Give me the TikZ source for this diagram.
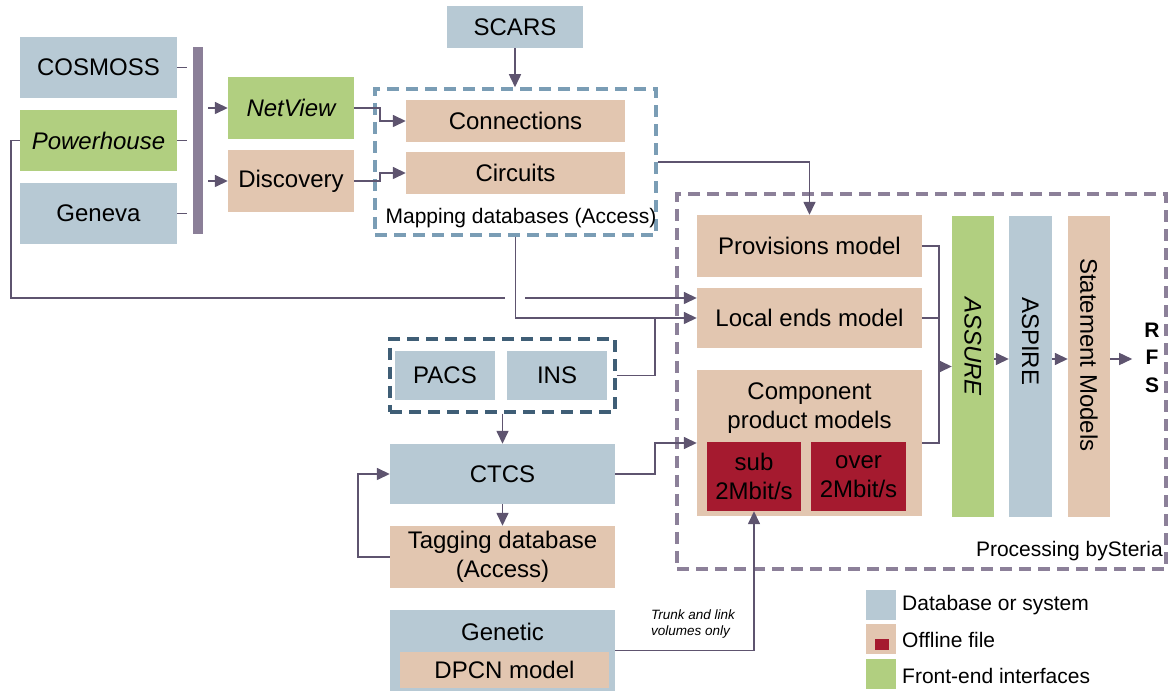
\documentclass[tikz,border=0pt]{standalone}
\usepackage{fontspec}
\setmainfont{Liberation Sans}
\usetikzlibrary{calc}
\usetikzlibrary{arrows.meta}
\definecolor{dbBlue}{HTML}{B7C9D4}
\definecolor{fileTan}{HTML}{E2C6B0}
\definecolor{frontGreen}{HTML}{B1CF80}
\definecolor{fileRed}{HTML}{A51A2F}
\definecolor{wireGrey}{HTML}{5E546F}
\definecolor{barGrey}{HTML}{8B7F98}
\definecolor{mapBlue}{HTML}{7A9DB5}
\definecolor{pacsBlue}{HTML}{3F5E76}
\definecolor{procGrey}{HTML}{8C8099}
\newcommand{\boxfont}{\fontsize{24}{29}\selectfont}
\newcommand{\labelfont}{\fontsize{21}{25}\selectfont}
\newcommand{\notefont}{\fontsize{13.5}{16}\selectfont\itshape}
\tikzset{
  block/.style = {fill=#1, inner sep=0pt, font=\boxfont, align=center},
  group/.style = {draw=#1, line width=3.5pt, dash pattern=on 12pt off 7pt, inner sep=0pt},
  wire/.style = {color=#1, line width=1.5pt},
  feed/.style = {color=#1, line width=1.5pt, -{Triangle[length=13pt,width=12pt]}},
  caption/.style = {inner sep=0pt, font=#1}
}

\begin{document}
\begin{tikzpicture}[x=1pt,y=-1pt]
    \useasboundingbox (0,0) rectangle (1171,692);

    % Groups
    \node[group={mapBlue}, minimum width=281pt, minimum height=146pt] (mapping) at (515.5,162) {};
    \node[group={procGrey}, minimum width=489pt, minimum height=375pt] (processing) at (921.5,381.5) {};
    \node[group={pacsBlue}, minimum width=225pt, minimum height=73pt] (pacsins) at (502.5,375.5) {};

    % Sources
    \node[block={dbBlue}, minimum width=157pt, minimum height=61pt] (cosmoss) at (98.5,67.5) {COSMOSS};
    \node[block={frontGreen}, minimum width=157pt, minimum height=61pt] (powerhouse) at (98.5,140.5) {\itshape Powerhouse};
    \node[block={dbBlue}, minimum width=157pt, minimum height=61pt] (geneva) at (98.5,213.5) {Geneva};
    \node[block={barGrey}, minimum width=10pt, minimum height=187pt] (bar) at (198,140.5) {};
    \node[block={frontGreen}, minimum width=126pt, minimum height=62pt] (netview) at (291,108) {\itshape NetView};
    \node[block={fileTan}, minimum width=126pt, minimum height=62pt] (discovery) at (291,181) {Discovery};
    \node[block={dbBlue}, minimum width=136pt, minimum height=42pt] (scars) at (515,27) {SCARS};

    % Mapping databases
    \node[block={fileTan}, minimum width=219pt, minimum height=42pt] (connections) at (515.5,121) {Connections};
    \node[block={fileTan}, minimum width=219pt, minimum height=42pt] (circuits) at (515.5,173) {Circuits};
    \node[caption=\labelfont] (mappingtext) at (521,218) {Mapping databases (Access)};

    % PACS, CTCS, Genetic
    \node[block={dbBlue}, minimum width=100pt, minimum height=49pt] (pacs) at (445,375.5) {PACS};
    \node[block={dbBlue}, minimum width=100pt, minimum height=49pt] (ins) at (557,375.5) {INS};
    \node[block={dbBlue}, minimum width=225pt, minimum height=60pt] (ctcs) at (502.5,474) {CTCS};
    \node[block={fileTan}, minimum width=225pt, minimum height=62pt] (tagging) at (502.5,557) {Tagging database\\(Access)};
    \node[block={dbBlue}, minimum width=225pt, minimum height=81pt] (genetic) at (502.5,650.5) {};
    \node[caption=\boxfont] (genetictext) at ([yshift=-22pt]genetic.north) {Genetic};
    \node[block={fileTan}, minimum width=209pt, minimum height=36pt] (dpcn) at (504.5,670) {DPCN model};

    % Processing by Steria
    \node[block={fileTan}, minimum width=225pt, minimum height=62pt] (provisions) at (809.5,246) {Provisions model};
    \node[block={fileTan}, minimum width=225pt, minimum height=60pt] (localends) at (809.5,318) {Local ends model};
    \node[block={fileTan}, minimum width=225pt, minimum height=146pt] (component) at (809.5,443) {};
    \node[caption=\boxfont, align=center] (componenttext) at (809.5,408) {Component\\product models};
    \node[block={fileRed}, minimum width=94pt, minimum height=69pt] (sub) at (754,476.5) {sub\\2Mbit/s};
    \node[block={fileRed}, minimum width=95pt, minimum height=69pt] (over) at (858.5,476.5) {over\\2Mbit/s};
    \node[block={frontGreen}, minimum width=42pt, minimum height=301pt] (assure) at (973,366.5) {};
    \node[block={dbBlue}, minimum width=43pt, minimum height=301pt] (aspire) at (1030.5,366.5) {};
    \node[block={fileTan}, minimum width=42pt, minimum height=301pt] (statement) at (1089,366.5) {};
    \node[caption=\boxfont\itshape, rotate=-90, anchor=west] (assuretext) at (973,297) {ASSURE};
    \node[caption=\boxfont, rotate=-90, anchor=west] (aspiretext) at (1030.5,297) {ASPIRE};
    \node[caption=\boxfont, rotate=-90, anchor=west] (statementtext) at (1089,258) {Statement Models};
    \node[caption=\bfseries\fontsize{21}{27.5}\selectfont, align=center] (rfs) at (1152,357.5) {R\\F\\S};
    \node[caption=\labelfont, anchor=east] (proctext) at (1163,551) {Processing bySteria};

    % Coordinates
    \coordinate (hopL) at (505,298);
    \coordinate (hopR) at (525,298);
    \coordinate (insjoin) at ($(localends.west)+(-42,0)$);
    \coordinate (bus) at ($(provisions.east)+(17,0)$);
    \coordinate (chain) at ($(assure.east)+(0,-7.5)$);

    % Feeds into the bar
    \draw[wire={wireGrey}, shorten >=6pt] (cosmoss.east) -- (cosmoss.east -| bar.west);
    \draw[wire={wireGrey}, shorten >=6pt] (powerhouse.east) -- (powerhouse.east -| bar.west);
    \draw[wire={wireGrey}, shorten >=6pt] (geneva.east) -- (geneva.east -| bar.west);
    \draw[feed={wireGrey}, shorten <=5pt] (bar.east |- netview.west) -- (netview.west);
    \draw[feed={wireGrey}, shorten <=5pt] (bar.east |- discovery.west) -- (discovery.west);

    % Mapping databases
    \draw[feed={wireGrey}] (netview.east) -- ++(26,0) |- (connections.west);
    \draw[feed={wireGrey}] (discovery.east) -- ++(26,0) |- (circuits.west);
    \draw[feed={wireGrey}] (scars.south) -- (scars.south |- mapping.north);
    \draw[feed={wireGrey}] (mapping.east) -| (provisions.north);
    \draw[feed={wireGrey}] (mapping.south) |- (localends.west);

    % Powerhouse, hopping over the mapping line
    \draw[wire={wireGrey}] (powerhouse.west) -- ++(-9,0) |- (hopL);
    \draw[feed={wireGrey}] (hopR) -- (hopR -| localends.west);

    % PACS / INS and CTCS
    \draw[wire={wireGrey}] (pacsins.east) -| (insjoin);
    \draw[feed={wireGrey}] (pacsins.south) -- (ctcs.north);
    \draw[feed={wireGrey}] (ctcs.east) -- ++(40,0) |- (component.west);
    \draw[feed={wireGrey}] (ctcs.south) -- (tagging.north);
    \draw[feed={wireGrey}] (tagging.west) -- ++(-32,0) |- (ctcs.west);

    % Genetic
    \draw[feed={wireGrey}] (genetic.east) -| (sub.south);
    \node[caption=\notefont, anchor=west, align=left] (trunknote) at (651,624) {Trunk and link\\volumes only};

    % Models into ASSURE
    \draw[wire={wireGrey}] (provisions.east) -- (bus) |- (component.east);
    \draw[wire={wireGrey}] (localends.east) -- (localends.east -| bus);
    \draw[feed={wireGrey}] (bus |- assure.west) -- (assure.west);

    % Chain to RFS
    \draw[feed={wireGrey}] (chain) -- (chain -| aspire.west);
    \draw[feed={wireGrey}] (chain -| aspire.east) -- (chain -| statement.west);
    \draw[feed={wireGrey}, shorten >=12pt] (chain -| statement.east) -- (chain -| rfs.west);

    % Legend
    \node[block={dbBlue}, minimum size=30pt] (legdb) at (881,605) {};
    \node[block={fileTan}, minimum size=30pt] (legfile) at (881,639) {};
    \node[block={fileRed}, minimum width=14pt, minimum height=11pt] (legred) at (882,644.5) {};
    \node[block={frontGreen}, minimum size=30pt] (legfront) at (881,674) {};
    \node[caption=\labelfont, anchor=west] (legdbtext) at (902,605) {Database or system};
    \node[caption=\labelfont, anchor=west] (legfiletext) at (902,640) {Offline file};
    \node[caption=\labelfont, anchor=west] (legfronttext) at (902,676) {Front-end interfaces};

\end{tikzpicture}
\end{document}
